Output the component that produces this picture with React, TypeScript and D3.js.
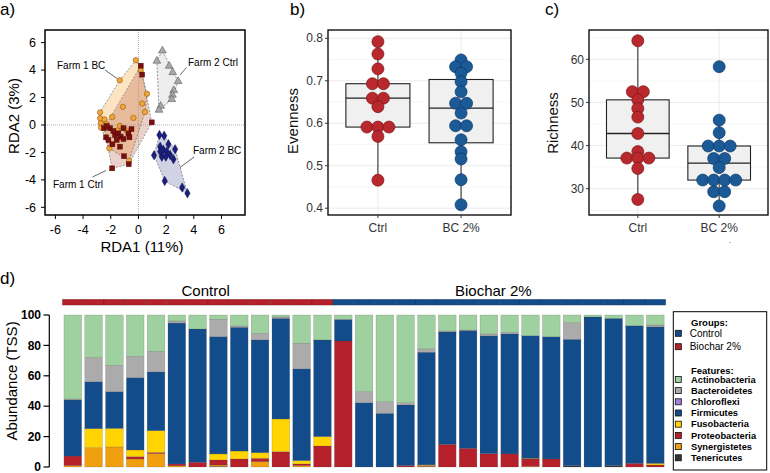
import React from 'react';
import * as d3 from 'd3';

const FONT = "'Liberation Sans', Arial, Helvetica, sans-serif";

// ---------- Panel a: RDA ----------
const farm1BC: [number, number][] = [
  [-0.19, 4.72], [-1.35, 3.26], [0.17, 4.0], [0.62, 2.27], [0.27, 1.56], [0.48, 0.95],
  [-1.12, 1.32], [-0.36, 0.51], [-1.89, 0.58], [-2.77, 0.92], [-2.77, 0.49], [-2.72, 0.12],
  [-2.7, -0.19], [-2.45, 0.4], [-2.34, 0.07], [-1.52, -0.41], [-0.84, -0.41], [-0.68, -2.6],
  [-2.1, -1.7], [-1.33, -0.07],
];
const farm1Ctrl: [number, number][] = [
  [0.17, 4.32], [0.27, 3.67], [0.96, 0.19], [-0.7, -2.86], [-1.9, -3.16], [-1.04, -2.28],
  [-1.88, -1.41], [-2.34, -0.9], [-2.17, -1.09], [-2.05, -0.24], [-1.69, -0.73], [-1.45, -0.61],
  [-1.28, -0.85], [-1.08, -0.24], [-1.08, -1.02], [-0.72, -0.61], [-0.65, -0.9], [-1.57, -1.09],
  [-2.48, -0.24], [-2.29, -0.07], [-1.81, -0.44], [-1.33, -1.58], [-0.5, -0.3],
];
const farm2Ctrl: [number, number][] = [
  [1.73, 5.41], [1.33, 4.66], [2.22, 4.3], [2.48, 3.83], [2.87, 3.18], [2.55, 2.52],
  [2.46, 2.18], [2.41, 1.87], [1.61, 1.38], [1.49, 1.09],
];
const farm2BC: [number, number][] = [
  [1.52, -0.73], [1.86, -0.78], [1.13, -2.21], [1.9, -4.08], [3.16, -4.56], [3.54, -4.98],
  [2.65, -1.77], [2.53, -2.5], [2.17, -1.41], [1.57, -1.58], [1.81, -1.82], [2.05, -1.94],
  [1.69, -2.31], [1.98, -2.31], [2.29, -2.18], [1.57, -1.94],
];
const rdaTicks = [-6, -4, -2, 0, 2, 4, 6];

// ---------- Panels b, c ----------
const groupLabels = ['Ctrl', 'BC 2%'];
const evenCtrl = [0.792, 0.763, 0.728, 0.693, 0.693, 0.659, 0.659, 0.639, 0.591, 0.591, 0.591, 0.569, 0.466];
const evenBC = [0.749, 0.733, 0.733, 0.718, 0.698, 0.674, 0.647, 0.647, 0.624, 0.594, 0.594, 0.561, 0.533, 0.516, 0.467, 0.408];
const evenTicks = [0.4, 0.5, 0.6, 0.7, 0.8];
const richCtrl = [64.3, 52.5, 52.5, 50.6, 48.6, 46.6, 42.8, 38.6, 37.1, 37.1, 37.1, 34.7, 27.5];
const richBC = [58.3, 45.9, 43.0, 39.9, 39.9, 39.9, 37.0, 37.0, 34.9, 32.0, 32.0, 32.0, 32.0, 29.3, 29.3, 26.0];
const richTicks = [30, 40, 50, 60];

// ---------- Panel d ----------
const samples = ['C1','C2','C3','C4','C5','C6','C7','C8','C9','C10','C11','C12','C13',
  'B1','B2','B3','B4','B5','B6','B7','B8','B9','B10','B11','B12','B13','B14','B15','B16'];
const sampleGroup = ['Control','Control','Control','Control','Control','Control','Control','Control','Control','Control','Control','Control','Control',
  'Biochar 2%','Biochar 2%','Biochar 2%','Biochar 2%','Biochar 2%','Biochar 2%','Biochar 2%','Biochar 2%','Biochar 2%','Biochar 2%','Biochar 2%','Biochar 2%','Biochar 2%','Biochar 2%','Biochar 2%','Biochar 2%'];
const actinobacteria = [55.3,27.9,33.1,27.2,23.9,3.9,9.2,2.8,7.2,12.1,1.3,18.6,16.4, 2.9,50.4,57.0,57.7,22.3,10.5,9.9,12.5,11.4,13.6,14.3,5.0,1.3,2.2,7.0,6.6];
const bacteroidetes = [0.6,16.0,17.3,14.0,13.6,1.4,0,11.4,0.9,4.3,0.9,16.9,0, 0,7.3,7.7,1.5,2.2,0.7,0.3,1.3,1.1,0,0,11.0,0,0,0,1.3];
const chloroflexi = [0,0,0,0,0,0,0,0,0,0,0,0,0, 0,0,0,0,0,0,0,0,0,0,0,0,0,0,0,0];
const firmicutes = [36.9,30.9,24.2,47.6,38.6,92.7,87.7,77.2,81.4,74.2,66.2,60.3,63.6, 14.2,42.3,35.3,39.9,74.1,73.9,77.5,77.4,78.9,80.7,80.4,83.1,98.7,96.9,90.6,89.7];
const fusobacteria = [0,12.5,12.2,4.4,14.3,0,0,4.0,5.2,3.7,21.5,2.2,6.2, 0,0,0,0,0.4,0,0,0,0,0.4,0,0,0,0,0,1.1];
const proteobacteria = [6.3,0,0,1.5,0.8,1.2,3.1,3.3,5.3,2.2,10.1,1.1,13.8, 82.9,0,0,0.9,0.5,14.9,12.3,8.8,8.6,4.8,5.3,0,0,0,2.4,1.3];
const synergistetes = [0.9,12.7,13.2,5.3,8.8,0.8,0,0.9,0,3.5,0,0.9,0, 0,0,0,0,0.5,0,0,0,0,0.5,0,0,0,0,0,0];
const tenericutes = [0,0,0,0,0,0,0,0.4,0,0,0,0,0, 0,0,0,0,0,0,0,0,0,0,0,0.9,0,0.9,0,0];
const features = ['Actinobacteria','Bacteroidetes','Chloroflexi','Firmicutes','Fusobacteria','Proteobacteria','Synergistetes','Tenericutes'];
const featureValues = [actinobacteria, bacteroidetes, chloroflexi, firmicutes, fusobacteria, proteobacteria, synergistetes, tenericutes];
const featureColors = ['#9FD09F','#ABABAB','#A67FE0','#134C8A','#FFD400','#B5202A','#F0A00E','#333333'];
const abundanceTicks = [0, 20, 40, 60, 80, 100];
const legendGroups = ['Control', 'Biochar 2%'];
const legendGroupColors = ['#134C8A', '#B5202A'];
const annotColors: Record<string, string> = { 'Control': '#B5202A', 'Biochar 2%': '#134C8A' };

const RED = '#B8282C', RED_S = '#7A1518', BLUE = '#1B5A97', BLUE_S = '#0D3864';

function boxStats(values: number[]) {
  const s = values.slice().sort(d3.ascending);
  const q1 = d3.quantileSorted(s, 0.25) as number;
  const med = d3.quantileSorted(s, 0.5) as number;
  const q3 = d3.quantileSorted(s, 0.75) as number;
  const iqr = q3 - q1;
  const lo = d3.min(s.filter(v => v >= q1 - 1.5 * iqr)) as number;
  const hi = d3.max(s.filter(v => v <= q3 + 1.5 * iqr)) as number;
  return { q1, med, q3, lo, hi };
}

function dotLayout(values: number[]) {
  const out: { v: number; off: number }[] = [];
  d3.group(values, v => v).forEach((arr, v) => {
    const n = arr.length;
    arr.forEach((_, i) => out.push({ v, off: i - (n - 1) / 2 }));
  });
  return out;
}

function BoxPanel(props: {
  x0: number; x1: number; y0: number; y1: number; domain: [number, number];
  ticks: number[]; fmt: (v: number) => string; data: number[][]; title: string; titleX: number; titleY: number;
}) {
  const { x0, x1, y0, y1, domain, ticks, fmt, data, title, titleX, titleY } = props;
  const x = d3.scalePoint<string>().domain(groupLabels).range([x0, x1]).padding(0.6);
  const y = d3.scaleLinear().domain(domain).range([y1, y0]);
  const step = x.step();
  const bw = step * 0.77;
  const minor = ticks.slice(0, -1).map((t, i) => (t + ticks[i + 1]) / 2);
  const extraMinor = [ticks[0] - (ticks[1] - ticks[0]) / 2, ticks[ticks.length - 1] + (ticks[1] - ticks[0]) / 2]
    .filter(v => v > domain[0] && v < domain[1]);
  const cols = [[RED, RED_S], [BLUE, BLUE_S]];
  return (
    <g>
      {[...minor, ...extraMinor].map((t, i) => (
        <line key={'mn' + i} x1={x0} x2={x1} y1={y(t)} y2={y(t)} stroke="#F2F2F2" strokeWidth={0.6} />
      ))}
      {ticks.map(t => (
        <line key={'mj' + t} x1={x0} x2={x1} y1={y(t)} y2={y(t)} stroke="#EBEBEB" strokeWidth={1} />
      ))}
      {groupLabels.map(g => (
        <line key={'vg' + g} x1={x(g)} x2={x(g)} y1={y0} y2={y1} stroke="#EBEBEB" strokeWidth={1} />
      ))}
      {data.map((vals, gi) => {
        const g = groupLabels[gi];
        const cx = x(g) as number;
        const st = boxStats(vals);
        return (
          <g key={'box' + g}>
            <line x1={cx} x2={cx} y1={y(st.lo)} y2={y(st.hi)} stroke="#444" strokeWidth={1.2} />
            <rect x={cx - bw / 2} y={y(st.q3)} width={bw} height={y(st.q1) - y(st.q3)} fill="#F0F0F0" stroke="#222" strokeWidth={1.1} />
            <line x1={cx - bw / 2} x2={cx + bw / 2} y1={y(st.med)} y2={y(st.med)} stroke="#222" strokeWidth={1.3} />
            {dotLayout(vals).map((d, i) => (
              <circle key={i} cx={cx + d.off * 11} cy={y(d.v)} r={6} fill={cols[gi][0]} stroke={cols[gi][1]} strokeWidth={0.7} />
            ))}
          </g>
        );
      })}
      <rect x={x0} y={y0} width={x1 - x0} height={y1 - y0} fill="none" stroke="#111" strokeWidth={1.4} />
      {ticks.map(t => (
        <g key={'t' + t}>
          <line x1={x0 - 3} x2={x0} y1={y(t)} y2={y(t)} stroke="#333" strokeWidth={1} />
          <text x={x0 - 5} y={y(t)} dy="0.35em" textAnchor="end" fontSize={12} fill="#333">{fmt(t)}</text>
        </g>
      ))}
      {groupLabels.map(g => (
        <g key={'xt' + g}>
          <line x1={x(g)} x2={x(g)} y1={y1} y2={y1 + 3} stroke="#333" strokeWidth={1} />
          <text x={x(g)} y={232} textAnchor="middle" fontSize={12} fill="#333">{g}</text>
        </g>
      ))}
      <text transform={`translate(${titleX},${titleY}) rotate(-90)`} textAnchor="middle" fontSize={15} fill="#111">{title}</text>
    </g>
  );
}

export default function App() {
  // ---- panel a scales
  const ax = d3.scaleLinear().domain([-6.75, 7.7]).range([45, 245]);
  const ay = d3.scaleLinear().domain([-6.56, 6.92]).range([215, 30]);
  const proj = (pts: [number, number][]) => pts.map(p => [ax(p[0]), ay(p[1])] as [number, number]);
  const hullPath = (pts: [number, number][]) => {
    const h = d3.polygonHull(proj(pts));
    return h ? 'M' + h.map(p => p.join(',')).join('L') + 'Z' : '';
  };
  const tri = d3.symbol().type(d3.symbolTriangle).size(26)() as string;
  const dia = d3.symbol().type(d3.symbolDiamond).size(26)() as string;

  // ---- panel d scales
  const dx = d3.scaleBand<string>().domain(samples).range([62.4, 665.7]).paddingInner(0.15).paddingOuter(0.075);
  const dy = d3.scaleLinear().domain([0, 100]).range([467, 315]);
  const rows = samples.map((s, i) => {
    const o: Record<string, number | string> = { sample: s };
    features.forEach((f, fi) => { o[f] = featureValues[fi][i]; });
    return o;
  });
  const stackKeys = features.slice().reverse();
  const series = d3.stack<Record<string, number | string>>().keys(stackKeys)
    .value((d, k) => d[k] as number)(rows);
  const colorOf = (f: string) => featureColors[features.indexOf(f)];
  const gap = dx.step() - dx.bandwidth();

  return (
    <div style={{ position: 'absolute', left: 0, top: 0 }}>
      <svg width={770} height={473} style={{ display: 'block', background: '#fff' }} fontFamily={FONT}>
        <rect x={0} y={0} width={770} height={473} fill="#fff" />
        {/* panel labels */}
        <text x={0} y={15} fontSize={17}>a)</text>
        <text x={290} y={15} fontSize={17}>b)</text>
        <text x={545} y={15} fontSize={17}>c)</text>
        <text x={0} y={284} fontSize={17}>d)</text>

        {/* ---------- panel a ---------- */}
        <g>
          <path d={hullPath(farm1BC)} fill="rgba(245,167,66,0.32)" stroke="#777" strokeWidth={0.7} strokeDasharray="2,1.5" />
          <path d={hullPath(farm1Ctrl)} fill="rgba(160,45,25,0.22)" stroke="#777" strokeWidth={0.7} strokeDasharray="2,1.5" />
          <path d={hullPath(farm2Ctrl)} fill="rgba(200,200,200,0.3)" stroke="#666" strokeWidth={0.7} strokeDasharray="2,1.5" />
          <path d={hullPath(farm2BC)} fill="rgba(26,35,126,0.2)" stroke="#666" strokeWidth={0.7} strokeDasharray="2,1.5" />
          <line x1={ax(0)} x2={ax(0)} y1={30} y2={215} stroke="#999" strokeWidth={0.8} strokeDasharray="1,1" />
          <line x1={45} x2={245} y1={ay(0)} y2={ay(0)} stroke="#999" strokeWidth={0.8} strokeDasharray="1,1" />
          {proj(farm1BC).map((p, i) => (
            <circle key={'a1' + i} cx={p[0]} cy={p[1]} r={2.7} fill="#F0A63A" stroke="#8E5C0A" strokeWidth={0.6} />
          ))}
          {proj(farm1Ctrl).map((p, i) => (
            <rect key={'a2' + i} x={p[0] - 2.5} y={p[1] - 2.5} width={5} height={5} fill="#7A0F0F" stroke="#4A0505" strokeWidth={0.4} />
          ))}
          {proj(farm2Ctrl).map((p, i) => (
            <path key={'a3' + i} d={tri} transform={`translate(${p[0]},${p[1]})`} fill="#A8A8A8" stroke="#5E5E5E" strokeWidth={0.6} />
          ))}
          {proj(farm2BC).map((p, i) => (
            <path key={'a4' + i} d={dia} transform={`translate(${p[0]},${p[1]})`} fill="#1B1F7A" stroke="#0A0D4A" strokeWidth={0.4} />
          ))}
          {/* labels */}
          <text x={57} y={69} fontSize={10}>Farm 1 BC</text>
          <line x1={105} y1={70} x2={117} y2={78.5} stroke="#222" strokeWidth={0.7} />
          <text x={188} y={65.5} fontSize={10}>Farm 2 Ctrl</text>
          <line x1={186.5} y1={67.5} x2={180} y2={75} stroke="#222" strokeWidth={0.7} />
          <text x={193} y={154} fontSize={10}>Farm 2 BC</text>
          <line x1={194} y1={157} x2={180} y2={167.5} stroke="#222" strokeWidth={0.7} />
          <text x={53} y={187.5} fontSize={10}>Farm 1 Ctrl</text>
          <line x1={92.5} y1={177} x2={106} y2={170.5} stroke="#222" strokeWidth={0.7} />
          <rect x={45} y={30} width={200} height={185} fill="none" stroke="#000" strokeWidth={1.5} />
          {rdaTicks.map(t => (
            <g key={'ax' + t}>
              <line x1={ax(t)} x2={ax(t)} y1={215} y2={219} stroke="#000" />
              <text x={ax(t)} y={234} textAnchor="middle" fontSize={12.5}>{t}</text>
              <line x1={41} x2={45} y1={ay(t)} y2={ay(t)} stroke="#000" />
              <text x={36} y={ay(t)} dy="0.35em" textAnchor="end" fontSize={12.5}>{t}</text>
            </g>
          ))}
          <text x={142} y={252} textAnchor="middle" fontSize={15}>RDA1 (11%)</text>
          <text transform="translate(18.5,116) rotate(-90)" textAnchor="middle" fontSize={15}>RDA2 (3%)</text>
        </g>

        {/* ---------- panel b ---------- */}
        <BoxPanel x0={328} x1={511} y0={30} y1={215} domain={[0.384, 0.8195]} ticks={evenTicks}
          fmt={d3.format('.1f')} data={[evenCtrl, evenBC]} title="Evenness" titleX={298} titleY={121} />
        {/* ---------- panel c ---------- */}
        <BoxPanel x0={589} x1={768} y0={30} y1={215} domain={[23.9, 66.8]} ticks={richTicks}
          fmt={d3.format('d')} data={[richCtrl, richBC]} title="Richness" titleX={558} titleY={123} />

        <text x={729} y={243} fontSize={7}>.</text>

        {/* ---------- panel d ---------- */}
        <g>
          {samples.map((s, i) => (
            <rect key={'an' + s} x={(dx(s) as number) - gap / 2} y={299.3} width={dx.step()} height={5.8}
              fill={annotColors[sampleGroup[i]]} stroke="rgba(0,0,0,0.35)" strokeWidth={0.5} />
          ))}
          <text x={181.5} y={295.5} fontSize={15}>Control</text>
          <text x={455} y={295.5} fontSize={15}>Biochar 2%</text>
          {series.map(ser => (
            <g key={'s' + ser.key} fill={colorOf(ser.key)}>
              {ser.map((d, i) => (d[1] - d[0] > 0 ? (
                <rect key={i} x={dx(samples[i])} y={dy(d[1])} width={dx.bandwidth()} height={dy(d[0]) - dy(d[1])}
                  stroke="rgba(70,70,70,0.35)" strokeWidth={0.5} />
              ) : null))}
            </g>
          ))}
          <line x1={49.3} x2={49.3} y1={dy(100)} y2={dy(0)} stroke="#000" strokeWidth={1.2} />
          {abundanceTicks.map(t => (
            <g key={'dt' + t}>
              <line x1={43.5} x2={49.3} y1={dy(t)} y2={dy(t)} stroke="#000" strokeWidth={1.2} />
              <text x={41} y={dy(t)} dy="0.35em" textAnchor="end" fontSize={12} fontWeight="bold">{t}</text>
            </g>
          ))}
          <text transform="translate(17,381) rotate(-90)" textAnchor="middle" fontSize={15}>Abundance (TSS)</text>

          {/* legend */}
          <rect x={673.3} y={311.7} width={93.4} height={158.3} fill="#fff" stroke="#000" strokeWidth={1} />
          <text x={691} y={325.8} fontSize={9.5} fontWeight="bold">Groups:</text>
          {legendGroups.map((g, i) => (
            <g key={'lg' + g}>
              <rect x={675.3} y={333.3 + i * 13.4 - 3} width={6} height={6} fill={legendGroupColors[i]} stroke="#111" strokeWidth={0.8} />
              <text x={689.7} y={333.3 + i * 13.4} dy="0.35em" fontSize={10}>{g}</text>
            </g>
          ))}
          <text x={691} y={373.5} fontSize={9.5} fontWeight="bold">Features:</text>
          {features.map((f, i) => (
            <g key={'lf' + f}>
              <rect x={675.3} y={379.4 + i * 11.2 - 3} width={6} height={6} fill={featureColors[i]} stroke="#111" strokeWidth={0.8} />
              <text x={691} y={379.4 + i * 11.2} dy="0.35em" fontSize={9.3} fontWeight="bold">{f}</text>
            </g>
          ))}
        </g>
      </svg>
    </div>
  );
}
